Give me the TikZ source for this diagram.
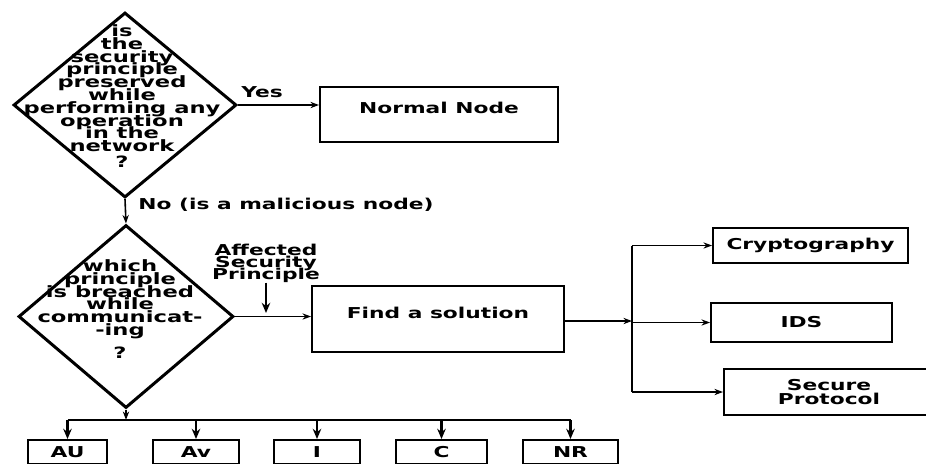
\documentclass[tikz,border=0pt]{standalone}
\usepackage{fontspec}
\newfontfamily\flowfont{DejaVu Sans}[FakeStretch=1.45]
\usetikzlibrary{arrows.meta,positioning,shapes.geometric}
\tikzset{
  box/.style={draw, rectangle, line width=1pt, inner sep=1pt, align=center, font=\flowfont\bfseries\fontsize{7.5}{7}\selectfont},
  dec/.style={draw, diamond, line width=1.5pt, inner sep=0pt},
  dtxt/.style={align=center, inner sep=0pt, font={\flowfont\bfseries\fontsize{7.8}{6.4}\selectfont\lineskiplimit=-20pt}},
  lbl/.style={inner sep=0pt, align=center, font={\flowfont\bfseries\fontsize{7.5}{6}\selectfont\lineskiplimit=-20pt}},
  arr/.style={-{Stealth[length=1.5mm,width=1.1mm]}, line width=0.8pt},
  barr/.style={-{Stealth[length=1.8mm,width=1.5mm]}, line width=1.2pt},
  ln/.style={line width=0.9pt},
}
\begin{document}
\begin{tikzpicture}[x=0.5pt,y=-0.5pt]
\clip (0,0) rectangle (926,463);
% first decision
\node[dec, minimum width=111.5pt, minimum height=92.5pt] (q1) at (125,105) {};
\node[dtxt] (q1t) at (122,96) {is\\the\\security\\principle\\preserved\\while\\performing any\\operation\\in the\\network\\[1.5pt]?};
\node[box, minimum width=119pt, minimum height=27.5pt, text depth=7pt] (nn) at (439,114.5) {Normal Node};
\node[lbl] (yes) at (262,92) {Yes};
\draw[arr] (q1.east) -- (q1.east -| nn.west);
\node[lbl, anchor=west] (no) at (138,205) {No (is a malicious node)};
% second decision
\node[dec, minimum width=107.5pt, minimum height=91.5pt] (q2) at (126,316.5) {};
\node[dtxt] (q2t) at (120,309) {which\\principle\\is breached\\while\\communicat-\\-ing\\[5pt]?};
\draw[arr] (q1.south) -- (q2.north);
\node[box, minimum width=126pt, minimum height=33pt, text depth=6pt] (fs) at (438,319) {Find a solution};
\draw[arr] (q2.east) -- (q2.east -| fs.west);
\node[lbl] (asp) at (266,263) {Affected\\Security\\Principle};
\coordinate (hit) at (266,313);
\draw[barr] (asp.south) -- (hit);
% solutions
\coordinate (fork) at (632,321);
\draw[arr] (fs.east |- fork) -- (fork);
\node[box, minimum width=97.5pt, minimum height=17.5pt] (cry) at (810.5,245.5) {Cryptography};
\node[box, minimum width=90.5pt, minimum height=19.5pt] (ids) at (801.5,322.5) {IDS};
\node[box, minimum width=105pt, minimum height=23pt] (sp) at (829,392) {Secure\\Protocol};
\draw[ln] (fork |- cry.west) -- (fork |- sp.west);
\foreach \b in {cry,ids,sp}
  \draw[arr] (fork |- \b.west) -- (\b.west);
% principles
\coordinate (bus) at (126,420);
\draw[arr] (q2.south) -- (bus);
\foreach \n/\t/\x/\w in {au/AU/67.5/39.5, av/Av/196/43, int/I/317/43, conf/C/441.5/45.5, nr/NR/570.5/47.5} {
  \node[box, anchor=north, minimum width=\w pt, minimum height=12pt] (\n) at (\x,439) {\t};
  \draw[barr] (\n.north |- bus) -- (\n.north);
}
\draw[ln] (au.north |- bus) -- (nr.north |- bus);
\end{tikzpicture}
\end{document}
